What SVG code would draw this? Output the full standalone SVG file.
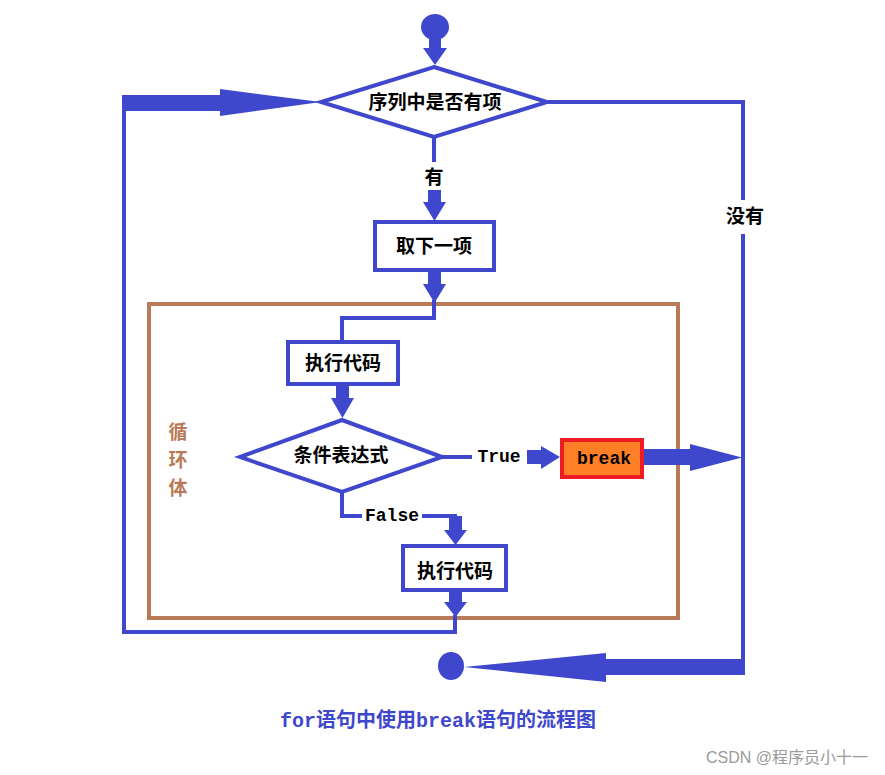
<svg xmlns="http://www.w3.org/2000/svg" width="885" height="775" viewBox="0 0 885 775">
<style>
.ln{fill:none;stroke:#3f48cc;stroke-width:4;stroke-linejoin:miter}
.ar{fill:#3f48cc;stroke:none}
.shape{fill:#fff;stroke:#3f48cc;stroke-width:4}
.t{font-family:"Liberation Serif","Noto Sans CJK SC",serif;font-size:19px;font-weight:bold;fill:#000;text-anchor:middle;dominant-baseline:central}
.m{font-family:"Liberation Mono","Noto Sans CJK SC",monospace;font-size:18px;font-weight:bold;fill:#000;text-anchor:middle;dominant-baseline:central}
</style>
<rect width="885" height="775" fill="#fff"/>

<g id="loop-body">
<rect x="149" y="304" width="529" height="314" fill="none" stroke="#b97a57" stroke-width="4"/>
<text x="178" y="432" class="t" style="fill:#b97a57">循</text>
<text x="178" y="460" class="t" style="fill:#b97a57">环</text>
<text x="178" y="488" class="t" style="fill:#b97a57">体</text>
</g>

<g id="connectors">
<rect class="ar" x="429" y="38" width="12" height="12"/>
<polygon class="ar" points="423,48 447,48 435,65"/>
<polyline class="ln" points="434,137 434,162"/>
<rect class="ar" x="428" y="190" width="13" height="14"/>
<polygon class="ar" points="423,202 446,202 434.5,221"/>
<rect class="ar" x="428" y="270" width="13" height="16"/>
<polygon class="ar" points="423,284 446,284 434.5,303"/>
<polyline class="ln" points="434,300 434,318 342,318 342,343"/>
<rect class="ar" x="336" y="384" width="13" height="16"/>
<polygon class="ar" points="331,398 354,398 342.5,418"/>
<polyline class="ln" points="442,457 472,457"/>
<rect class="ar" x="527" y="450" width="16" height="14"/>
<polygon class="ar" points="541,446 541,469 560,457"/>
<rect class="ar" x="643" y="449" width="50" height="16"/>
<polygon class="ar" points="690,444 690,471 742,457.5"/>
<polyline class="ln" points="342,492 342,516 362,516"/>
<polyline class="ln" points="422,516 455,516 455,527"/>
<rect class="ar" x="449" y="516" width="13" height="16"/>
<polygon class="ar" points="444,530 467,530 455.5,545"/>
<rect class="ar" x="449" y="590" width="13" height="14"/>
<polygon class="ar" points="444,602 467,602 455.5,617"/>
<polyline class="ln" points="455,615 455,632 124,632 124,97"/>
<rect class="ar" x="122" y="95" width="100" height="16"/>
<polygon class="ar" points="220,89 220,116 321,102"/>
<polyline class="ln" points="547,102 743,102 743,200"/>
<polyline class="ln" points="743,234 743,670 605,670"/>
<rect class="ar" x="603" y="659" width="142" height="16"/>
<polygon class="ar" points="606,653 606,682 464,667"/>
</g>

<g id="start">
<ellipse cx="435" cy="27" rx="14" ry="13" fill="#3f48cc"/>
</g>

<g id="cond-seq">
<polygon class="shape" points="434,67 547,102 434,137 321,102"/>
<text x="435" y="102" class="t">序列中是否有项</text>
</g>

<g id="label-you">
<text x="434" y="177" class="t">有</text>
</g>

<g id="label-meiyou">
<text x="745" y="216" class="t">没有</text>
</g>

<g id="take-next">
<rect class="shape" x="375" y="222" width="119" height="48"/>
<text x="434" y="246" class="t">取下一项</text>
</g>

<g id="exec1">
<rect class="shape" x="288" y="342" width="110" height="42"/>
<text x="343" y="363" class="t">执行代码</text>
</g>

<g id="cond-expr">
<polygon class="shape" points="342,420 442,457 342,492 240,457"/>
<text x="341" y="455" class="t">条件表达式</text>
</g>

<g id="label-true">
<text x="499" y="457" class="m">True</text>
</g>

<g id="break">
<rect x="562" y="440" width="80" height="37" fill="#ff7f27" stroke="#ed1c24" stroke-width="4"/>
<text x="604" y="459" class="m">break</text>
</g>

<g id="label-false">
<text x="392" y="516" class="m">False</text>
</g>

<g id="exec2">
<rect class="shape" x="403" y="546" width="103" height="44"/>
<text x="455" y="571" class="t">执行代码</text>
</g>

<g id="end">
<ellipse cx="451" cy="666" rx="13" ry="14" fill="#3f48cc"/>
</g>

<text x="438" y="721" style="font-family:'Liberation Mono','Noto Sans CJK SC',monospace;font-size:20px;font-weight:bold;fill:#3f48cc;text-anchor:middle;dominant-baseline:central">for语句中使用break语句的流程图</text>
<text x="868" y="757" style="font-family:'Liberation Sans','Noto Sans CJK SC',sans-serif;font-size:16px;fill:#9a9a9a;text-anchor:end;dominant-baseline:central">CSDN @程序员小十一</text>
</svg>
